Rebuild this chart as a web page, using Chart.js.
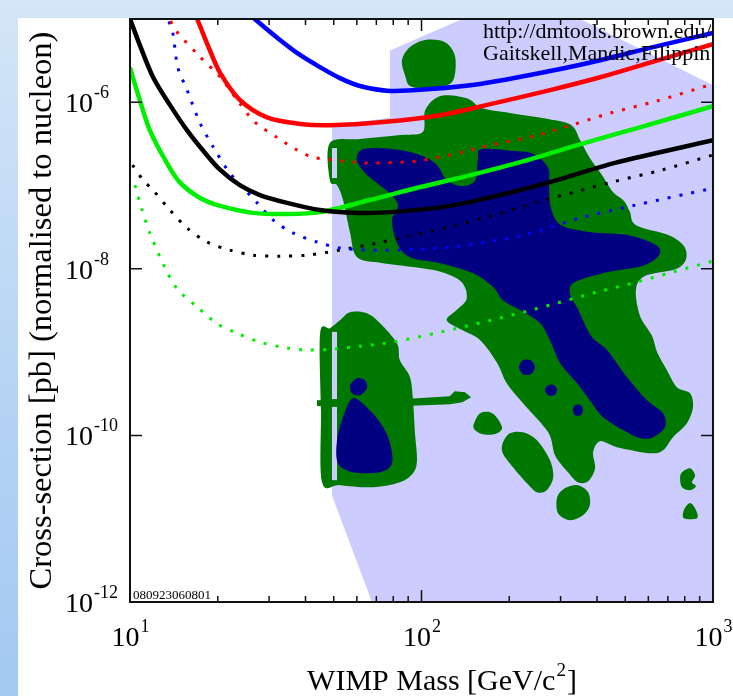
<!DOCTYPE html>
<html>
<head>
<meta charset="utf-8">
<script src="https://cdn.jsdelivr.net/npm/chart.js@4.4.1/dist/chart.umd.min.js"></script>
<style>
    html, body { margin: 0; padding: 0; }
    body {
        width: 733px; height: 696px; overflow: hidden; position: relative;
        background: linear-gradient(to bottom, #d4e6f8 0%, #b6d4f4 55%, #a3c9f2 100%);
    }
    #panel { position: absolute; left: 18px; top: 18px; width: 715px; height: 678px; background: #fff; }
    #chart { position: absolute; left: 0; top: 0; }
</style>
</head>
<body>
<div id="panel"></div>
<canvas id="chart" width="733" height="696"></canvas>
<script>
// ==================== AXES ====================
const xTickValues = [10, 100, 1000];
const xTickExponents = ['1', '2', '3'];
const xMinorTicks = [20, 30, 40, 50, 60, 70, 80, 90, 200, 300, 400, 500, 600, 700, 800, 900];
const yTickValues = [1e-12, 1e-10, 1e-8, 1e-6];
const yTickExponents = ['-12', '-10', '-8', '-6'];

// ==================== LIMIT CURVES ====================
// points are [WIMP mass (GeV), cross-section (pb)]
const blueSolid = [[24.8,1.28e-5],[26.8,1e-5],[32.7,5.6e-6],[38.3,3.7e-6],[44.8,2.65e-6],[52.5,1.95e-6],[61.5,1.57e-6],[77.9,1.37e-6],[107,1.44e-6],[159,1.66e-6],[276,2.37e-6],[410,3.2e-6],[608,4.5e-6],[1000,6.8e-6]];
const redSolid = [[16.4,1.32e-5],[17.0,1e-5],[18.8,4.2e-6],[20.4,2.24e-6],[23.8,1.07e-6],[29.5,6.6e-7],[38.3,5.5e-7],[48.5,5.3e-7],[73.8,5.8e-7],[116,7.0e-7],[168,9.3e-7],[276,1.4e-6],[410,2.0e-6],[608,3.0e-6],[1000,5.0e-6]];
const blackSolid = [[10,1e-5],[10.8,4.9e-6],[12.0,2.0e-6],[13.7,9.3e-7],[15.7,4.6e-7],[18.1,2.46e-7],[20.4,1.54e-7],[23.8,1.01e-7],[27.9,7.7e-8],[34.6,6.2e-8],[44.8,5.1e-8],[61.5,4.7e-8],[84.3,4.9e-8],[125,5.7e-8],[186,7.7e-8],[276,1.1e-7],[461,1.87e-7],[1000,3.5e-7]];
const greenSolid = [[10,2.6e-6],[10.8,1.07e-6],[11.7,4.6e-7],[13.2,2.03e-7],[14.8,1.1e-7],[17.4,7.1e-8],[20.4,5.7e-8],[26.4,4.7e-8],[34.6,4.55e-8],[44.8,4.8e-8],[66.5,6.7e-8],[99,9.6e-8],[143,1.3e-7],[218,1.91e-7],[352,3.15e-7],[561,5.0e-7],[1000,9.0e-7]];

const redDotted = [[13.3,1.28e-5],[13.7,1e-5],[14.3,7.4e-6],[17.4,3.5e-6],[20.4,2.0e-6],[23.3,1.07e-6],[26.8,5.8e-7],[31.9,3.8e-7],[37.4,2.67e-7],[42.4,2.2e-7],[49.7,2.03e-7],[65.0,1.87e-7],[96.5,1.97e-7],[125,2.33e-7],[168,3.0e-7],[241,3.9e-7],[326,5.3e-7],[443,7.4e-7],[637,1.03e-6],[1000,1.66e-6]];
const blueDotted = [[13.2,1.28e-5],[13.5,1e-5],[14.0,7.0e-6],[14.6,2.6e-6],[15.7,1.4e-6],[17.4,5.6e-7],[19.3,2.9e-7],[22.0,1.41e-7],[25.2,8.4e-8],[27.3,6.2e-8],[31.0,3.85e-8],[36.2,2.7e-8],[43.8,2.1e-8],[52.5,1.78e-8],[66.5,1.68e-8],[84.3,1.68e-8],[125,1.82e-8],[168,2.1e-8],[225,2.54e-8],[352,4.1e-8],[527,5.7e-8],[1000,9.3e-8]];
const blackDotted = [[10.2,1.76e-7],[11.1,1.16e-7],[12.0,8.8e-8],[13.7,5.1e-8],[15.7,3.1e-8],[18.4,2.1e-8],[22.0,1.68e-8],[26.4,1.46e-8],[32.7,1.42e-8],[40.5,1.46e-8],[52.5,1.68e-8],[70.4,2.04e-8],[84.3,2.34e-8],[125,3.2e-8],[176,4.4e-8],[257,6.5e-8],[450,1.1e-7],[668,1.54e-7],[1000,2.33e-7]];
const greenDotted = [[10.4,1.01e-7],[11.0,5.1e-8],[11.7,2.7e-8],[13.2,1.02e-8],[14.6,5.6e-9],[17.0,3.5e-9],[19.9,2.2e-9],[23.3,1.69e-9],[27.9,1.32e-9],[34.6,1.12e-9],[40.5,1.06e-9],[49.7,1.09e-9],[61.5,1.18e-9],[79.8,1.32e-9],[116,1.74e-9],[172,2.4e-9],[230,3.1e-9],[301,4.0e-9],[403,5.3e-9],[527,6.7e-9],[707,8.9e-9],[1000,1.24e-8]];

// ==================== THEORY REGIONS ====================
const lavenderRegion = [[67.6,1e-12],[1000,1e-12],[1000,1.6e-6],[350,1e-5],[138,1e-5],[78,4.2e-6],[78,6.5e-7],[49.3,5.3e-7],[49.3,1.9e-11]];

const greenTop = [[87.8,2.1e-6],[85.7,3.2e-6],[91.3,4.6e-6],[103,5.6e-6],[120,5.3e-6],[130,3.7e-6],[130,2.1e-6],[123,1.61e-6],[103,1.48e-6],[91.3,1.57e-6]];
const greenMain = [[48.5,3.24e-7],[61.5,3.62e-7],[84.3,4.04e-7],[101,4.39e-7],[103,8.07e-7],[116,1.19e-6],[143,1.12e-6],[161,8.53e-7],[201,7.43e-7],[272,6.29e-7],[326,5.33e-7],[350,3.52e-7],[378,2.14e-7],[416,1.34e-7],[454,8.35e-8],[495,6.51e-8],[519,4.8e-8],[544,3.35e-8],[706,2.54e-8],[795,1.88e-8],[808,1.31e-8],[747,9.93e-9],[584,8.18e-9],[544,5.56e-9],[562,2.71e-9],[618,1.56e-9],[643,1.0e-9],[695,6.08e-10],[752,3.8e-10],[834,3.22e-10],[854,2.19e-10],[814,1.4e-10],[729,9.53e-11],[674,6.65e-11],[608,6.12e-11],[468,7.23e-11],[410,8.53e-11],[388,6.29e-11],[394,4.04e-11],[373,2.82e-11],[344,2.74e-11],[318,3.62e-11],[287,5.79e-11],[272,1.09e-10],[223,2.44e-10],[196,4.24e-10],[182,7.38e-10],[159,1.39e-9],[138,1.84e-9],[122,2.42e-9],[132,3.2e-9],[143,4.45e-9],[136,7.13e-9],[110,9.66e-9],[73.8,1.17e-8],[60.1,1.38e-8],[56.9,2.69e-8],[53.8,6.7e-8],[51.3,1.01e-7],[48.5,1.16e-7]];
const greenLeft = [[56.9,3.02e-9],[65.0,2.94e-9],[72.1,2.23e-9],[82.4,1.28e-9],[84.3,8.0e-10],[91.3,5.01e-10],[93.5,2.65e-10],[95.0,1.06e-10],[96.5,5.04e-11],[93.5,3.52e-11],[84.3,2.74e-11],[68.2,2.39e-11],[52.5,2.53e-11],[45.6,2.74e-11],[45.2,2.0e-10],[44.9,1.69e-9],[48.5,1.94e-9],[52.5,2.42e-9]];
const greenArm = [[87.8,2.73e-10],[125,2.96e-10],[130,3.4e-10],[141,3.31e-10],[148,2.88e-10],[138,2.51e-10],[125,2.37e-10],[87.8,2.25e-10]];
const greenSpike = [[43.8,2.65e-10],[51.7,2.65e-10],[51.7,2.25e-10],[43.8,2.25e-10]];
const greenIslandA = [[153,1.52e-10],[159,1.85e-10],[172,1.9e-10],[182,1.61e-10],[189,1.22e-10],[179,1.04e-10],[161,1.04e-10],[151,1.22e-10]];
const greenIslandB = [[190,8.07e-11],[201,1.06e-10],[223,1.09e-10],[249,8.77e-11],[276,5.04e-11],[283,3.15e-11],[269,2.2e-11],[249,2.08e-11],[230,2.67e-11],[206,4.16e-11],[190,6.12e-11]];
const greenIslandC = [[292,1.81e-11],[311,2.33e-11],[344,2.53e-11],[373,2.08e-11],[378,1.45e-11],[358,1.1e-11],[323,9.59e-12],[294,1.16e-11]];
const greenIslandD = [[783,3.62e-11],[834,4.04e-11],[868,3.33e-11],[847,2.74e-11],[874,2.46e-11],[834,2.2e-11],[783,2.39e-11],[771,3.07e-11]];
const greenIslandE = [[834,1.54e-11],[874,1.27e-11],[881,1.01e-11],[795,1.01e-11],[795,1.27e-11]];
const gapStrips = [
    [[49.3,2.82e-7],[51.3,2.82e-7],[51.3,1.23e-7],[49.3,1.23e-7]],
    [[49.3,1.75e-9],[51.3,1.75e-9],[51.3,2.73e-10],[49.3,2.73e-10]],
    [[49.3,2.2e-10],[51.3,2.2e-10],[51.3,2.9e-11],[49.3,2.9e-11]]
];

const navyMain = [[61.5,2.6e-7],[68.2,2.82e-7],[84.3,2.67e-7],[101,2.26e-7],[113,1.76e-7],[122,1.16e-7],[138,9.86e-8],[153,1.16e-7],[156,2.03e-7],[161,2.74e-7],[208,2.6e-7],[243,2.39e-7],[272,1.62e-7],[274,9.33e-8],[278,5.37e-8],[301,3.35e-8],[382,2.76e-8],[515,2.54e-8],[638,1.93e-8],[653,1.46e-8],[571,1.08e-8],[436,9.14e-9],[336,6.93e-9],[323,5.11e-9],[344,3.29e-9],[382,1.56e-9],[433,1.06e-9],[507,5.01e-10],[594,2.65e-10],[674,1.85e-10],[685,1.26e-10],[623,9.53e-11],[562,9.27e-11],[491,1.16e-10],[419,1.66e-10],[378,2.65e-10],[342,4.24e-10],[299,7.38e-10],[276,1.39e-9],[255,2.23e-9],[218,3.2e-9],[190,4.21e-9],[176,6.04e-9],[150,8.89e-9],[116,1.17e-8],[91.3,1.38e-8],[82.4,2.04e-8],[79.2,3.85e-8],[83.1,5.83e-8],[76.2,8.59e-8],[65.0,1.34e-7],[60.1,1.97e-7]];
const navyLeftSmall = [[56.9,4.01e-10],[60.1,4.87e-10],[64.0,4.61e-10],[65.0,3.69e-10],[61.5,3.04e-10],[57.8,3.22e-10]];
const navyLeftBig = [[58.2,2.8e-10],[66.5,2.0e-10],[73.8,1.26e-10],[78.0,8.07e-11],[79.2,4.64e-11],[72.1,3.62e-11],[58.2,3.62e-11],[51.7,4.64e-11],[51.3,8.77e-11],[53.8,1.66e-10]];
const navyDots = [
    [[216,6.61e-10],[223,8.0e-10],[237,8.0e-10],[245,6.61e-10],[237,5.44e-10],[223,5.44e-10]],
    [[265,3.5e-10],[272,4.01e-10],[285,4.01e-10],[292,3.5e-10],[285,3.04e-10],[272,3.04e-10]],
    [[331,2.0e-10],[336,2.31e-10],[352,2.31e-10],[358,2.0e-10],[352,1.75e-10],[336,1.75e-10]]
];

// ==================== STYLE ====================
const colors = {
    lavender: '#ccccff',
    green: '#007800',
    navy: '#000080',
    blue: '#0000ff',
    red: '#ff0000',
    black: '#000000',
    lime: '#00ee00'
};
const serif = '"Liberation Serif", "Times New Roman", serif';

function region(label, points, color, smooth) {
    return {
        label: label,
        data: points.map(([x, y]) => ({x, y})),
        region: color,
        smooth: smooth,
        showLine: false,
        pointRadius: 0,
        pointHoverRadius: 0
    };
}

function curve(label, points, color, dotted) {
    return {
        label: label,
        data: points.map(([x, y]) => ({x, y})),
        showLine: true,
        borderColor: color,
        borderWidth: dotted ? 3 : 4.5,
        borderDash: dotted ? [3, 9] : [],
        borderCapStyle: 'butt',
        tension: 0.3,
        pointRadius: 0,
        pointHoverRadius: 0,
        fill: false,
        clip: 0
    };
}

const datasets = [
    region('MSSM', lavenderRegion, colors.lavender, false),
    region('green top', greenTop, colors.green, true),
    region('green main', greenMain, colors.green, true),
    region('green left', greenLeft, colors.green, true),
    region('green arm', greenArm, colors.green, false),
    region('green spike', greenSpike, colors.green, false),
    region('island A', greenIslandA, colors.green, true),
    region('island B', greenIslandB, colors.green, true),
    region('island C', greenIslandC, colors.green, true),
    region('island D', greenIslandD, colors.green, true),
    region('island E', greenIslandE, colors.green, true),
    ...gapStrips.map((s, i) => region('gap ' + i, s, colors.lavender, false)),
    region('navy main', navyMain, colors.navy, true),
    region('navy left small', navyLeftSmall, colors.navy, true),
    region('navy left big', navyLeftBig, colors.navy, true),
    ...navyDots.map((s, i) => region('navy dot ' + i, s, colors.navy, true)),
    curve('blue', blueSolid, colors.blue, false),
    curve('red', redSolid, colors.red, false),
    curve('black', blackSolid, colors.black, false),
    curve('green', greenSolid, colors.lime, false),
    curve('red proj', redDotted, colors.red, true),
    curve('blue proj', blueDotted, colors.blue, true),
    curve('black proj', blackDotted, colors.black, true),
    curve('green proj', greenDotted, colors.lime, true)
];

// closed path through pixel points, optionally smoothed (Catmull-Rom)
function traceClosed(ctx, pts, k) {
    const n = pts.length;
    ctx.beginPath();
    ctx.moveTo(pts[0][0], pts[0][1]);
    for (let i = 0; i < n; i++) {
        const p0 = pts[(i - 1 + n) % n], p1 = pts[i], p2 = pts[(i + 1) % n], p3 = pts[(i + 2) % n];
        if (!k) { ctx.lineTo(p2[0], p2[1]); continue; }
        ctx.bezierCurveTo(
            p1[0] + (p2[0] - p0[0]) * k, p1[1] + (p2[1] - p0[1]) * k,
            p2[0] - (p3[0] - p1[0]) * k, p2[1] - (p3[1] - p1[1]) * k,
            p2[0], p2[1]);
    }
    ctx.closePath();
}

// ==================== PLUGINS ====================
const regionPlugin = {
    id: 'regions',
    beforeDatasetsDraw(chart) {
        const {ctx, chartArea: a} = chart;
        ctx.save();
        ctx.beginPath();
        ctx.rect(a.left, a.top, a.right - a.left, a.bottom - a.top);
        ctx.clip();
        chart.data.datasets.forEach((ds, i) => {
            if (!ds.region) return;
            const pts = chart.getDatasetMeta(i).data.map(p => [p.x, p.y]);
            ctx.fillStyle = ds.region;
            traceClosed(ctx, pts, ds.smooth ? 0.16 : 0);
            ctx.fill();
        });
        ctx.restore();
    }
};

function powerLabel(ctx, exp, x, baseY, align) {
    ctx.font = '28px ' + serif;
    const wBase = ctx.measureText('10').width;
    ctx.font = '18px ' + serif;
    const wExp = ctx.measureText(exp).width;
    const left = align === 'center' ? x - (wBase + wExp) / 2 : x;
    ctx.textAlign = 'left';
    ctx.textBaseline = 'alphabetic';
    ctx.font = '28px ' + serif;
    ctx.fillText('10', left, baseY);
    ctx.font = '18px ' + serif;
    ctx.fillText(exp, left + wBase + 1, baseY - 14);
}

const framePlugin = {
    id: 'frame',
    afterDatasetsDraw(chart) {
        const {ctx, chartArea: a, scales: {x, y}} = chart;
        ctx.save();
        ctx.strokeStyle = '#111';
        ctx.lineWidth = 1.5;
        ctx.beginPath();
        xMinorTicks.forEach(v => {
            const px = x.getPixelForValue(v);
            ctx.moveTo(px, a.bottom); ctx.lineTo(px, a.bottom - 6);
            ctx.moveTo(px, a.top); ctx.lineTo(px, a.top + 6);
        });
        xTickValues.forEach(v => {
            const px = x.getPixelForValue(v);
            ctx.moveTo(px, a.bottom); ctx.lineTo(px, a.bottom - 12);
            ctx.moveTo(px, a.top); ctx.lineTo(px, a.top + 12);
        });
        yTickValues.forEach(v => {
            const py = y.getPixelForValue(v);
            ctx.moveTo(a.left, py); ctx.lineTo(a.left + 12, py);
            ctx.moveTo(a.right, py); ctx.lineTo(a.right - 12, py);
        });
        ctx.stroke();
        ctx.lineWidth = 2;
        ctx.strokeRect(a.left, a.top, a.right - a.left, a.bottom - a.top);
        ctx.restore();
    },
    afterDraw(chart) {
        const {ctx, chartArea: a, scales: {x, y}} = chart;
        ctx.save();
        ctx.fillStyle = '#000';

        // tick labels
        xTickValues.forEach((v, i) => powerLabel(ctx, xTickExponents[i], x.getPixelForValue(v), 646, 'center'));
        yTickValues.forEach((v, i) => powerLabel(ctx, yTickExponents[i], 65, y.getPixelForValue(v) + 10, 'left'));

        // x title with superscript
        const t1 = 'WIMP Mass [GeV/c', t2 = '2', t3 = ']';
        ctx.font = '30px ' + serif;
        const w1 = ctx.measureText(t1).width, w3 = ctx.measureText(t3).width;
        ctx.font = '19px ' + serif;
        const w2 = ctx.measureText(t2).width;
        let tx = 441 - (w1 + w2 + w3) / 2;
        ctx.textAlign = 'left';
        ctx.font = '30px ' + serif;
        ctx.fillText(t1, tx, 690);
        ctx.font = '19px ' + serif;
        ctx.fillText(t2, tx + w1 + 1, 676);
        ctx.font = '30px ' + serif;
        ctx.fillText(t3, tx + w1 + w2 + 2, 690);

        // y title
        ctx.save();
        ctx.translate(51, (a.top + a.bottom) / 2);
        ctx.rotate(-Math.PI / 2);
        ctx.textAlign = 'center';
        ctx.font = '32.5px ' + serif;
        ctx.fillText('Cross-section [pb] (normalised to nucleon)', 0, 0);
        ctx.restore();

        // credits, clipped by the frame
        ctx.save();
        ctx.beginPath();
        ctx.rect(a.left, a.top, a.right - a.left - 2, a.bottom - a.top);
        ctx.clip();
        ctx.textAlign = 'left';
        ctx.font = '22px ' + serif;
        ctx.fillText('http://dmtools.brown.edu/', 483, 38);
        ctx.fillText('Gaitskell,Mandic,Filippini', 483, 60);
        ctx.font = '13px ' + serif;
        ctx.fillText('080923060801', a.left + 3, a.bottom - 3);
        ctx.restore();

        ctx.restore();
    }
};

// ==================== CHART ====================
new Chart(document.getElementById('chart'), {
    type: 'scatter',
    data: { datasets: datasets },
    options: {
        responsive: false,
        animation: false,
        events: [],
        layout: { padding: { left: 130, top: 19, right: 20, bottom: 94 } },
        plugins: { legend: { display: false }, tooltip: { enabled: false } },
        scales: {
            x: { type: 'logarithmic', min: 10, max: 1000, display: false },
            y: { type: 'logarithmic', min: 1e-12, max: 1e-5, display: false }
        }
    },
    plugins: [regionPlugin, framePlugin]
});
</script>
</body>
</html>
